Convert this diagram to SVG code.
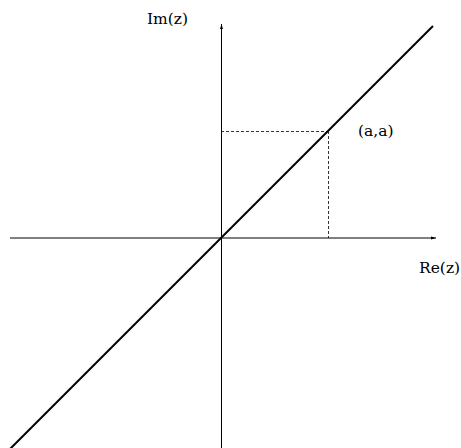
<svg xmlns="http://www.w3.org/2000/svg" width="461" height="448" viewBox="0 0 461 448">
<style>
.axis{stroke:#000;stroke-width:1;fill:none}
.dash{stroke:#000;stroke-width:0.8;stroke-dasharray:3,2;fill:none}
.diag{stroke:#000;stroke-width:2;fill:none}
text{font-family:"DejaVu Serif","Liberation Serif",serif;font-size:15.5px;fill:#000}
</style>
<defs>
<marker id="arr" markerWidth="6" markerHeight="6" refX="5" refY="3" orient="auto" markerUnits="userSpaceOnUse">
<path d="M0,1.5 L5,3 L0,4.5 Z" fill="#000"/>
</marker>
</defs>
<g id="connectors">
<line class="axis" x1="10" y1="238" x2="436" y2="238" marker-end="url(#arr)"/>
<line class="axis" x1="221.5" y1="448" x2="221.5" y2="24" marker-end="url(#arr)"/>
<line class="dash" x1="221" y1="131.5" x2="328" y2="131.5"/>
<line class="dash" x1="328.5" y1="131" x2="328.5" y2="238"/>
<line class="diag" x1="10" y1="449" x2="433" y2="26"/>
</g>
<g id="label-im"><text x="147" y="24">Im(z)</text></g>
<g id="label-re"><text x="419" y="273">Re(z)</text></g>
<g id="label-point"><text x="358" y="136">(a,a)</text></g>
</svg>
